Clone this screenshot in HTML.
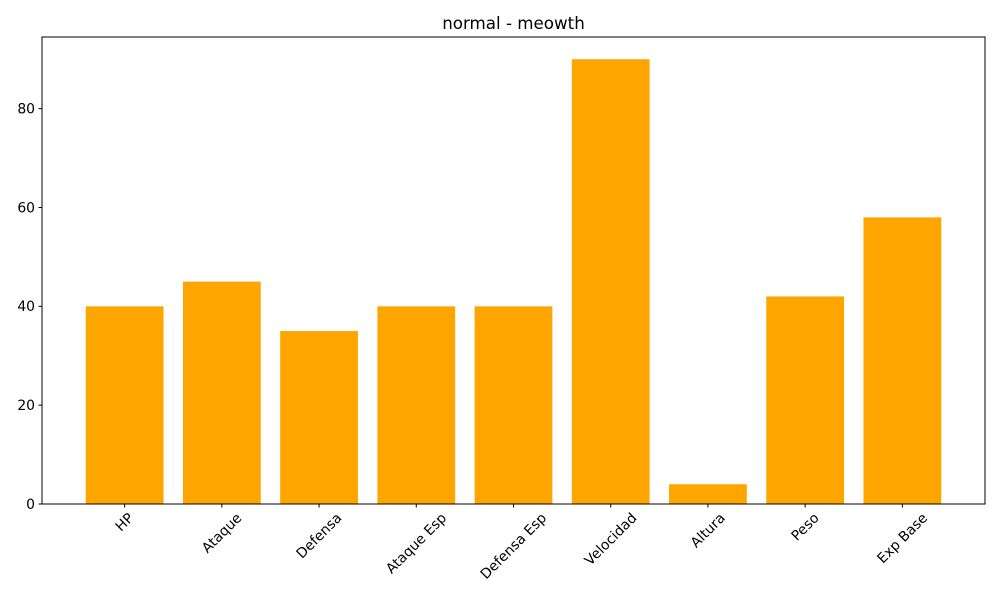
<!DOCTYPE html>
<html><head><meta charset="utf-8"><style>
body{margin:0;background:#fff;}
svg text{font-family:"DejaVu Sans","Liberation Sans",sans-serif;fill:#000;}
</style></head><body>
<svg id="chart" width="1000" height="600">
<rect width="1000" height="600" fill="#fff"/>
<text x="513.5" y="29" font-size="16.7" text-anchor="middle">normal - meowth</text>
<g id="bars"></g>
<g id="axes"></g>
<rect x="42" y="37" width="943" height="467" fill="none" stroke="#000" stroke-width="1"/>
</svg>
<script>
const categories=["HP","Ataque","Defensa","Ataque Esp","Defensa Esp","Velocidad","Altura","Peso","Exp Base"];
const values=[40,45,35,40,40,90,4,42,58];
const yTicks=[0,20,40,60,80];
const L=42,R=985,T=37,B=504;
const ns="http://www.w3.org/2000/svg";
const maxV=Math.max(...values)*1.05;
const xmin=-0.85,xmax=categories.length-1+0.85;
const xs=i=>L+(i-xmin)/(xmax-xmin)*(R-L);
const ys=v=>B-v/maxV*(B-T);
const bars=document.getElementById('bars'),axes=document.getElementById('axes');
function mk(t,a,p){const e=document.createElementNS(ns,t);for(const k in a)e.setAttribute(k,a[k]);p.appendChild(e);return e;}
values.forEach((v,i)=>{
 const w=0.8*(R-L)/(xmax-xmin);
 const r=mk('rect',{x:xs(i)-w/2,y:ys(v),width:w,height:B-ys(v),fill:'#ffa500'},bars);
 
 
});
yTicks.forEach(t=>{
 const y=ys(t);
 mk('line',{x1:L-3.5,x2:L,y1:y,y2:y,stroke:'#000'},axes);
 const tx=mk('text',{x:L-7,y:y+4.8,'font-size':13.9,'text-anchor':'end'},axes);
 tx.textContent=t;
 
 
});
categories.forEach((c,i)=>{
 const x=xs(i);
 mk('line',{x1:x,x2:x,y1:B,y2:B+3.5,stroke:'#000'},axes);
 const tx=mk('text',{'font-size':13.9,'text-anchor':'middle'},axes);
 tx.textContent=c;
 
 
 const len=tx.getComputedTextLength(),h=13;
 const cy=B+7+(len+h)*0.7071/2;
 tx.setAttribute('x',x);tx.setAttribute('y',cy+4.5);
 tx.setAttribute('transform','rotate(-45 '+x+' '+cy+')');
});
</script>
</body></html>
